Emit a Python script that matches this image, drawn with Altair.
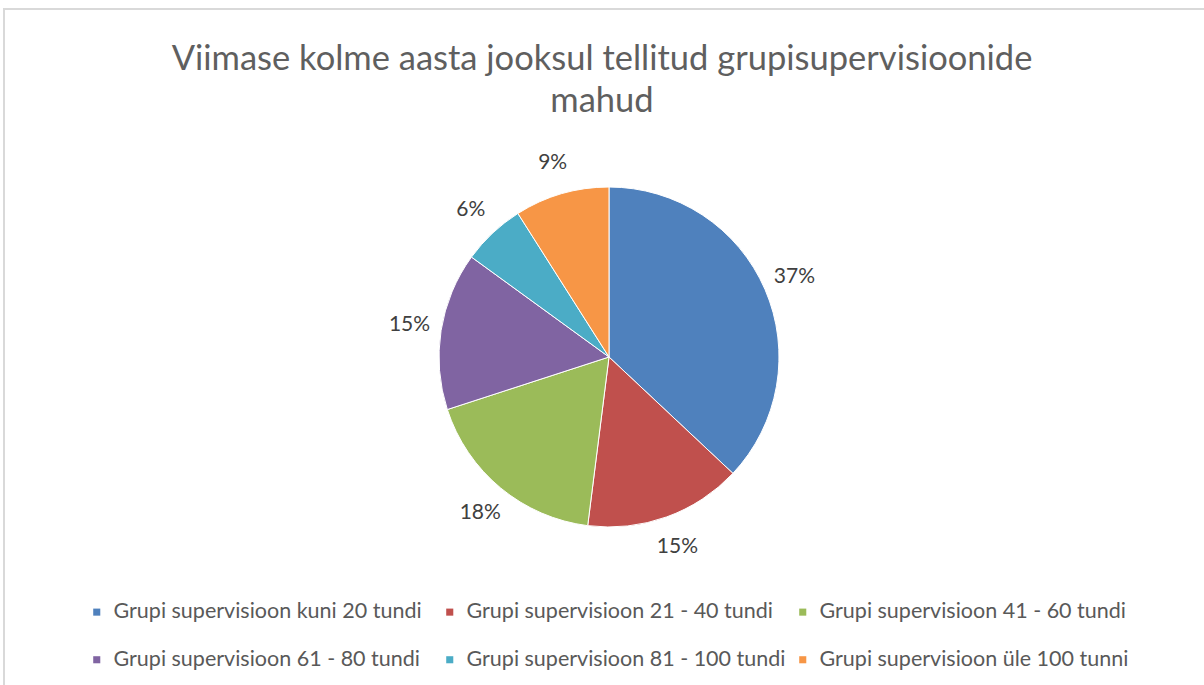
import altair as alt
import pandas as pd

categories = [
    "Grupi supervisioon kuni 20 tundi",
    "Grupi supervisioon 21 - 40 tundi",
    "Grupi supervisioon 41 - 60 tundi",
    "Grupi supervisioon 61 - 80 tundi",
    "Grupi supervisioon 81 - 100 tundi",
    "Grupi supervisioon üle 100 tunni",
]
values = [37, 15, 18, 15, 6, 9]
labels = ["37%", "15%", "18%", "15%", "6%", "9%"]
colors = ["#4F81BD", "#C0504D", "#9BBB59", "#8064A2", "#4BACC6", "#F79646"]

df = pd.DataFrame({
    "category": categories,
    "value": values,
    "label": labels,
    "order": list(range(len(categories))),
})

FONT = "Lato"
TOP = 125
CX, CY = 609, 232

base = alt.Chart(df).encode(
    theta=alt.Theta("value:Q", stack=True),
    order=alt.Order("order:Q", sort="ascending"),
)

pie = base.mark_arc(outerRadius=170, stroke="white", strokeWidth=1).encode(
    color=alt.Color(
        "category:N",
        scale=alt.Scale(domain=categories, range=colors),
        legend=alt.Legend(
            title=None,
            orient="none",
            legendX=86,
            legendY=476,
            direction="horizontal",
            columns=3,
            gridAlign="all",
            symbolType="square",
            symbolSize=50,
            symbolStrokeWidth=0,
            labelFontSize=21.5,
            labelFont=FONT,
            labelColor="#595959",
            labelLimit=400,
            labelOffset=6,
            columnPadding=6,
            rowPadding=25,
        ),
    ),
    x=alt.value(CX),
    y=alt.value(CY),
)

text = base.mark_text(radius=202, fontSize=21, font=FONT, color="#404040").encode(
    text="label:N",
    x=alt.value(CX),
    y=alt.value(CY),
)

border = alt.Chart(df).mark_rect(fill=None, stroke="#d9d9d9", strokeWidth=1.5).encode(
    x=alt.value(4),
    x2=alt.value(1215),
    y=alt.value(9 - TOP),
    y2=alt.value(700),
)

chart = alt.layer(border, pie, text).properties(
    width=1204,
    height=685 - TOP,
    padding={"left": 0, "top": TOP, "right": 0, "bottom": 0},
    autosize=alt.AutoSizeParams(type="none"),
    title=alt.Title(
        text=["Viimase kolme aasta jooksul tellitud grupisupervisioonide", "mahud"],
        fontSize=34.5,
        font=FONT,
        fontWeight="normal",
        color="#5f5f5f",
        anchor="middle",
        frame="group",
        offset=-111,
        lineHeight=42,
    ),
).configure_view(stroke=None)

chart.save("out.html", embed_options={"renderer": "svg", "actions": False})
